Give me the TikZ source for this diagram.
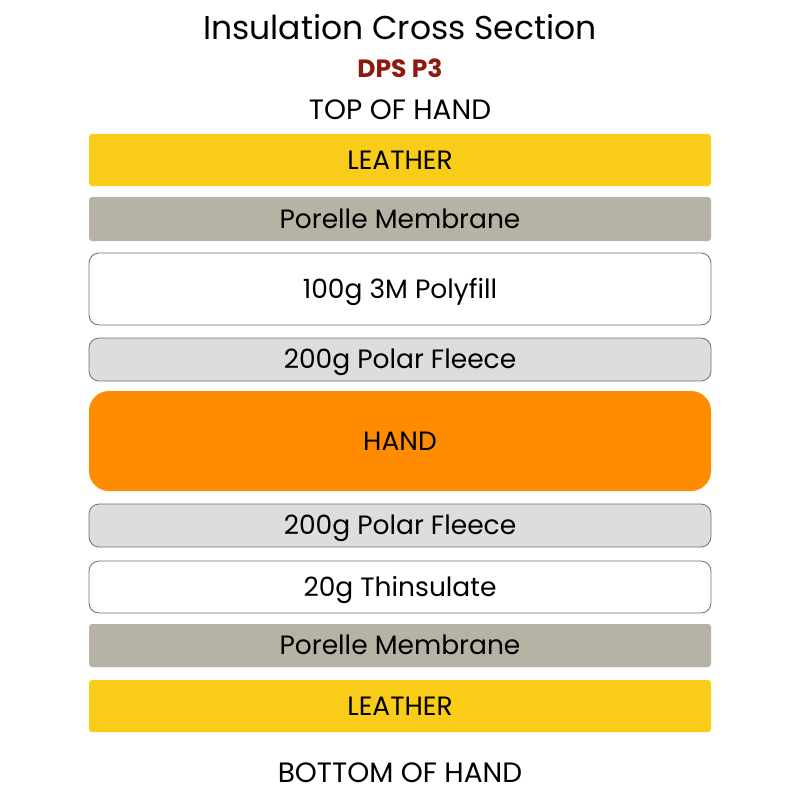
\documentclass[tikz,border=0pt]{standalone}
\usepackage{fontspec}
\setmainfont{Poppins}
\usepackage{xcolor}
\definecolor{LeatherYellow}{HTML}{F9CC1A}
\definecolor{MembraneGray}{HTML}{B6B3A4}
\definecolor{FleeceGray}{HTML}{DCDDDD}
\definecolor{HandOrange}{HTML}{FF8C00}
\definecolor{EdgeGray}{HTML}{707070}
\definecolor{CodeRed}{HTML}{8E1A0E}
\usetikzlibrary{positioning}

\begin{document}
\begin{tikzpicture}[x=1pt, y=-1pt,
        layer/.style={minimum width=622pt, inner sep=0pt, text height=22pt, text depth=4pt,
            font=\fontsize{26.5}{30}\selectfont, text=black},
        leather/.style={layer, fill=LeatherYellow, rounded corners=3pt, minimum height=52pt},
        membrane/.style={layer, fill=MembraneGray, rounded corners=3pt, minimum height=44pt},
        padding/.style={layer, fill=white, draw=EdgeGray, line width=0.8pt, rounded corners=10pt},
        fleece/.style={layer, fill=FleeceGray, draw=EdgeGray, line width=0.8pt, rounded corners=10pt, minimum height=43pt},
        hand/.style={layer, fill=HandOrange, rounded corners=20pt, minimum height=100pt},
        caption/.style={font=\fontsize{28}{32}\selectfont, text=black}
    ]
        \useasboundingbox (0,0) rectangle (800,800);

        % Headings
        \node[font=\fontsize{33}{38}\selectfont] (title) at (400,27) {Insulation Cross Section};
        \node[font=\fontsize{25}{29}\selectfont\bfseries, text=CodeRed] (code) at (400,68) {DPS P3};
        \node[caption] (top) at (400,110) {TOP OF HAND};

        % Layers from the back of the hand to the palm
        \node[leather] (leatherTop) at (400,160) {LEATHER};
        \node[membrane] (membraneTop) at (400,219) {Porelle Membrane};
        \node[padding, minimum height=72pt] (polyfill) at (400,289) {100g 3M Polyfill};
        \node[fleece] (fleeceTop) at (400,359.5) {200g Polar Fleece};
        \node[hand] (hand) at (400,441) {HAND};
        \node[fleece] (fleeceBottom) at (400,525.5) {200g Polar Fleece};
        \node[padding, minimum height=52pt] (thinsulate) at (400,587) {20g Thinsulate};
        \node[membrane, minimum height=43pt] (membraneBottom) at (400,645.5) {Porelle Membrane};
        \node[leather] (leatherBottom) at (400,706) {LEATHER};

        \node[caption] (bottom) at (400,773) {BOTTOM OF HAND};
    \end{tikzpicture}
\end{document}
